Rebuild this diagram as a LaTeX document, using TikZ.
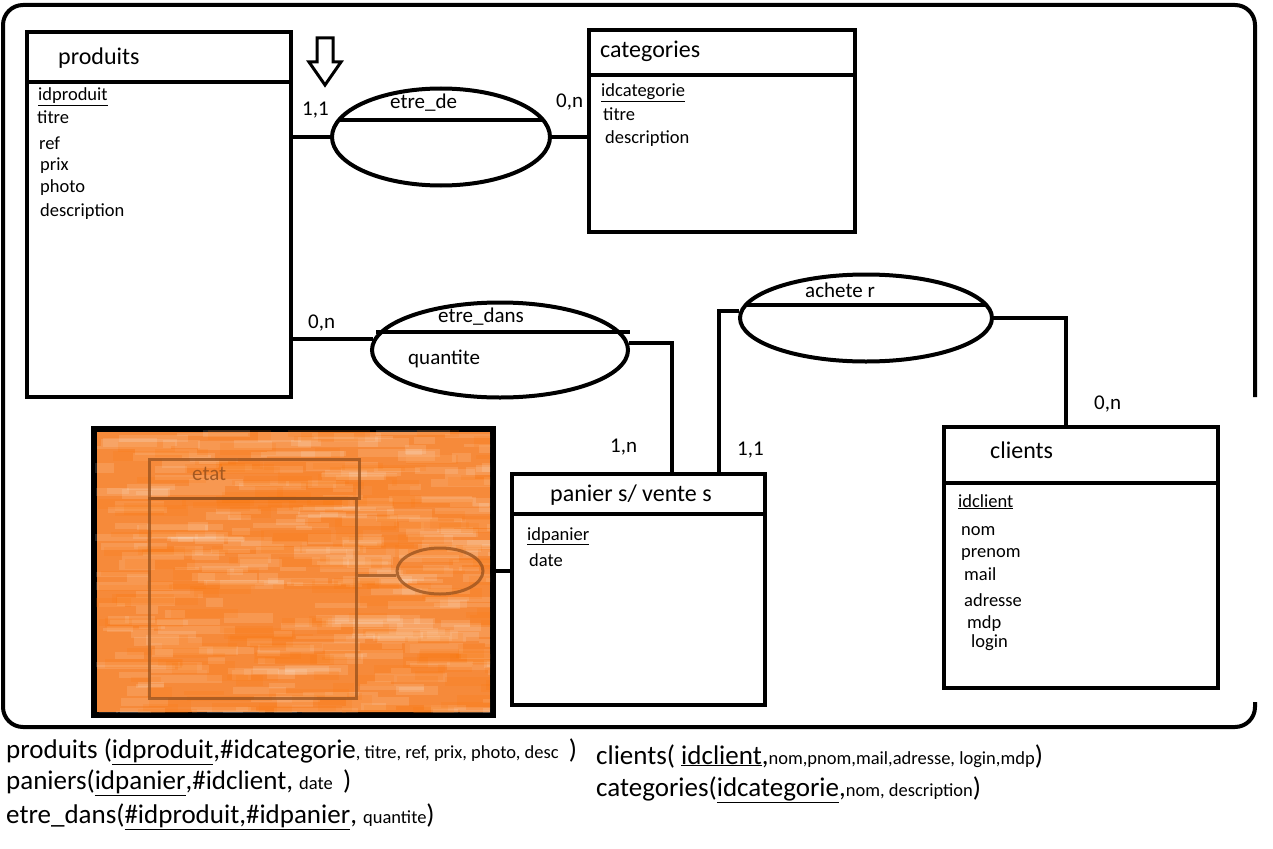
\documentclass[tikz,border=0pt]{standalone}
\usepackage{fontspec}
\setmainfont{Carlito}
\usetikzlibrary{shapes.geometric,calc}
\definecolor{orangefill}{HTML}{F68A3A}
\definecolor{brownline}{HTML}{96501C}
\tikzset{
  ent/.style={draw, line width=4pt, anchor=north west, inner sep=0pt, fill=white},
  rel/.style={draw, ellipse, line width=4pt, inner sep=0pt},
  conn/.style={line width=4pt},
  ttl/.style={anchor=base west, inner sep=0pt, font=\fontsize{24}{28}\selectfont},
  attr/.style={anchor=base west, inner sep=0pt, font=\fontsize{18.5}{22}\selectfont},
  card/.style={anchor=base west, inner sep=0pt, font=\fontsize{21}{25}\selectfont},
  big/.style={anchor=base west, inner sep=0pt},
}
\newcommand{\bigf}{\fontsize{27}{31}\selectfont}
\newcommand{\smallf}{\fontsize{18.5}{22}\selectfont}
\begin{document}
\begin{tikzpicture}[x=1pt,y=-1pt]
\useasboundingbox (0,0) rectangle (1273,848);
% outer frame
\draw[line width=4pt, rounded corners=20pt] (1255,397) -- (1255,5) -- (3,5) -- (3,727) -- (1255,727) -- (1255,702);
% produits
\node[ent, minimum width=264pt, minimum height=50pt] (produitsH) at (25,30) {};
\node[ent, minimum width=264pt, minimum height=315pt] (produitsB) at (25,80) {};
\node[ttl] (tprod) at (58,65) {produits};
\node[attr] (a1) at (38,101) {\underline{idproduit}};
\node[attr] (a2) at (37,124) {titre};
\node[attr] (a3) at (39,149) {ref};
\node[attr] (a4) at (40,170) {prix};
\node[attr] (a5) at (40,192) {photo};
\node[attr] (a6) at (40,216) {description};
% categories
\node[ent, minimum width=266pt, minimum height=45pt] (catH) at (587,28) {};
\node[ent, minimum width=266pt, minimum height=157pt] (catB) at (587,73) {};
\node[ttl] (tcat) at (600,58) {categories};
\node[attr] (c1) at (601,97) {\underline{idcategorie}};
\node[attr] (c2) at (603,121) {titre};
\node[attr] (c3) at (605,143) {description};
% clients
\node[ent, minimum width=274pt, minimum height=56pt] (cliH) at (942,425) {};
\node[ent, minimum width=274pt, minimum height=205pt] (cliB) at (942,481) {};
\node[ttl] (tcli) at (990,458) {clients};
\node[attr] (k1) at (958,507) {\underline{idclient}};
\node[attr] (k2) at (961,535) {nom};
\node[attr] (k3) at (961,557) {prenom};
\node[attr] (k4) at (964,580) {mail};
\node[attr] (k5) at (964,606) {adresse};
\node[attr] (k6) at (967,628) {mdp};
\node[attr] (k7) at (971,647) {login};
% paniers
\node[ent, minimum width=253pt, minimum height=40pt] (panH) at (510,472) {};
\node[ent, minimum width=253pt, minimum height=191pt] (panB) at (510,512) {};
\node[ttl] (tpan) at (550,501) {panier s/ vente s};
\node[attr] (p1) at (527,540) {\underline{idpanier}};
\node[attr] (p2) at (529,566) {date};
% orange zone
\node[draw, line width=4pt, fill=orangefill, anchor=north west, inner sep=0pt, minimum width=397pt, minimum height=284pt] (zone) at (93,428) {};
\begin{scope}
\clip (93,428) rectangle (490,712);
\pgfmathsetseed{42}
\foreach \i in {1,...,320} {
  \pgfmathsetmacro{\sx}{93+397*rnd}
  \pgfmathsetmacro{\sy}{428+284*rnd}
  \pgfmathsetmacro{\sl}{15+70*rnd}
  \pgfmathsetmacro{\sh}{3+7*rnd}
  \fill[white, opacity=0.12] (\sx,\sy) rectangle ++(\sl,\sh);
}
\foreach \i in {1,...,200} {
  \pgfmathsetmacro{\sx}{93+397*rnd}
  \pgfmathsetmacro{\sy}{428+284*rnd}
  \pgfmathsetmacro{\sl}{20+70*rnd}
  \pgfmathsetmacro{\sh}{4+8*rnd}
  \fill[orange!90!red, opacity=0.14] (\sx,\sy) rectangle ++(\sl,\sh);
}
\end{scope}
\draw[line width=4pt] (zone.north west) rectangle (zone.south east);
\node[draw=brownline, line width=3pt, draw opacity=0.75, anchor=north west, inner sep=0pt, minimum width=210pt, minimum height=39pt] (etatH) at (148,458) {};
\node[draw=brownline, line width=3pt, draw opacity=0.75, anchor=north west, inner sep=0pt, minimum width=207pt, minimum height=200pt] (etatB) at (148,497) {};
\node[anchor=base west, inner sep=0pt, text=brownline, text opacity=0.85, font=\fontsize{21}{25}\selectfont] (tetat) at (192,480) {etat};
\node[draw=brownline, line width=3pt, draw opacity=0.75, ellipse, inner sep=0pt, minimum width=86pt, minimum height=46pt] (oval) at (440,571) {};
\draw[brownline, line width=3pt, opacity=0.75] (etatB.east |- 0,575) -- (oval.west |- 0,575);
% arrow
\draw[line width=3pt] (317,38) -- (333,38) -- (333,62) -- (341,62) -- (325,85) -- (309,62) -- (317,62) -- cycle;
% relations
\node[rel, minimum width=218pt, minimum height=97pt] (etrede) at (441,137) {};
\draw[conn] (339,120) -- (543,120);
\node[anchor=base west, inner sep=0pt, font=\fontsize{21}{25}\selectfont] (tetrede) at (390,109) {etre\_de};
\node[rel, minimum width=256pt, minimum height=95pt] (etredans) at (500,350) {};
\draw[conn] (376,332) -- (630,332);
\node[anchor=base west, inner sep=0pt, font=\fontsize{21}{25}\selectfont] (tetredans) at (438,322) {etre\_dans};
\node[anchor=base west, inner sep=0pt, font=\fontsize{21}{25}\selectfont] (tquant) at (408,364) {quantite};
\node[rel, minimum width=252pt, minimum height=87pt] (acheter) at (866,318) {};
\draw[conn] (746,305) -- (986,305);
\node[anchor=base west, inner sep=0pt, font=\fontsize{21}{25}\selectfont] (tach) at (805,297) {achete r};
% connectors
\draw[conn] (etrede.west -| produitsB.east) -- (etrede.west);
\draw[conn] (etrede.east) -- (etrede.east -| catB.west);
\draw[conn] (etredans.175 -| produitsB.east) -- (etredans.175);
\draw[conn] (etredans.3) -| ($(panH.north west)+(162,0)$);
\draw[conn] (acheter.177) -| ($(panH.north west)+(209,0)$);
\draw[conn] (acheter.east) -| ($(cliH.north west)+(124,0)$);
\draw[conn] (panB.west |- oval.center) -- (zone.east |- oval.center);
% cardinalities
\node[card] (k11a) at (302,116) {1,1};
\node[card] (k0na) at (556,108) {0,n};
\node[card] (k0nb) at (308,328) {0,n};
\node[card] (k1n) at (610,452) {1,n};
\node[card] (k11b) at (737,455) {1,1};
\node[card] (k0nc) at (1094,409) {0,n};
% bottom text
\node[big] (l1) at (6,758) {\bigf produits (\underline{idproduit},\#idcategorie{\smallf, titre, ref, prix, photo, desc }~)};
\node[big] (l2) at (6,789) {\bigf paniers(\underline{idpanier},\#idclient, {\smallf date }~)};
\node[big] (l3) at (6,823) {\bigf etre\_dans(\underline{\#idproduit,\#idpanier}, {\smallf quantite})};
\node[big] (r1) at (596,764) {\bigf clients( \underline{idclient},{\smallf nom,pnom,mail,adresse, login,mdp})};
\node[big] (r2) at (596,796) {\bigf categories(\underline{idcategorie},{\smallf nom, description})};
\end{tikzpicture}
\end{document}
